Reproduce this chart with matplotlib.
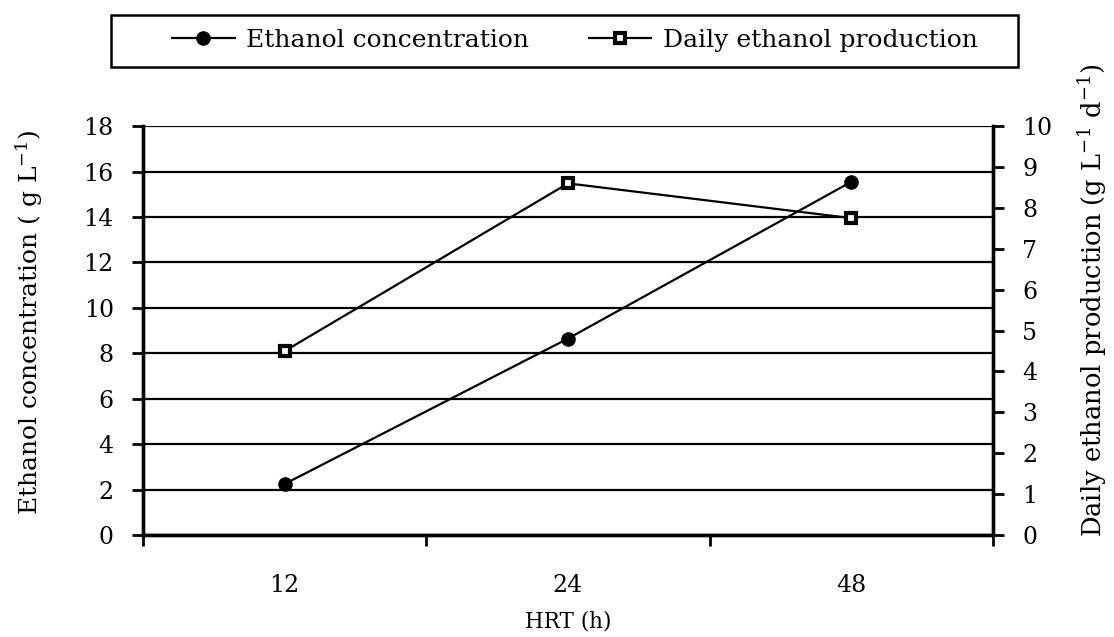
import numpy as np
import matplotlib.pyplot as plt
from matplotlib.patches import Rectangle

# data
hrt = ['12', '24', '48']
ethanol_conc = [2.25, 8.65, 15.55]      # g/L
daily_prod = [4.5, 8.6, 7.75]           # g/L/d

plt.rcParams['font.family'] = ['DejaVu Serif']
plt.rcParams['mathtext.fontset'] = 'dejavuserif'

fig = plt.figure(figsize=(11.14, 6.37), dpi=100)
ax = fig.add_axes([0.1284, 0.160, 0.8914 - 0.1284, 0.802 - 0.160])
ax2 = ax.twinx()

x = np.arange(len(hrt)) + 0.5

l1, = ax.plot(x, ethanol_conc, color='black', lw=1.6, marker='o', ms=9.5,
              mfc='black', mec='black', label='Ethanol concentration')
l2, = ax2.plot(x, daily_prod, color='black', lw=1.6, marker='s', ms=7.5,
               mfc='white', mec='black', mew=3, label='Daily ethanol production')

ax.set_xlim(0, 3)
ax.set_ylim(0, 18)
ax.set_yticks(np.arange(0, 19, 2))
ax2.set_ylim(0, 10)
ax2.set_yticks(np.arange(0, 11, 1))

ax.set_xticks(np.arange(0, 4))
ax.set_xticklabels([])
ax.set_xticks(x, minor=True)
ax.set_xticklabels(hrt, minor=True)
ax.tick_params(axis='x', which='minor', length=0, pad=28, labelsize=17)
ax.tick_params(axis='x', which='major', length=8, width=2, direction='out')
ax.tick_params(axis='y', length=8, width=2, direction='out', labelsize=17, pad=13)
ax2.tick_params(axis='y', length=8, width=2, direction='out', labelsize=17, pad=13)

ax.yaxis.grid(True, color='black', lw=1.6)
ax.set_axisbelow(True)

for a in (ax, ax2):
    for s in a.spines.values():
        s.set_linewidth(2.4)
ax2.spines['top'].set_visible(False)
ax.spines['top'].set_visible(False)

ax.set_xlabel('HRT (h)', fontsize=15.5, labelpad=10)
ax.set_ylabel('Ethanol concentration ( g L$^{-1}$)', fontsize=18)
ax2.set_ylabel('Daily ethanol production (g L$^{-1}$ d$^{-1}$)', fontsize=18.5)
ax.yaxis.set_label_coords(-0.115, 0.52)
ax2.yaxis.set_label_coords(1.098, 0.575)

leg = fig.legend(handles=[l1, l2], ncol=2, loc='center',
                 bbox_to_anchor=(0.516, 0.937), fontsize=18, frameon=False,
                 handlelength=2.5, columnspacing=2.4, handletextpad=0.45)

# legend box
fig.patches.append(Rectangle((111 / 1114, 1 - 67 / 637), 907 / 1114, 52 / 637,
                             transform=fig.transFigure, fill=False,
                             edgecolor='black', lw=1.8))

fig.savefig('out.png', dpi=100)
